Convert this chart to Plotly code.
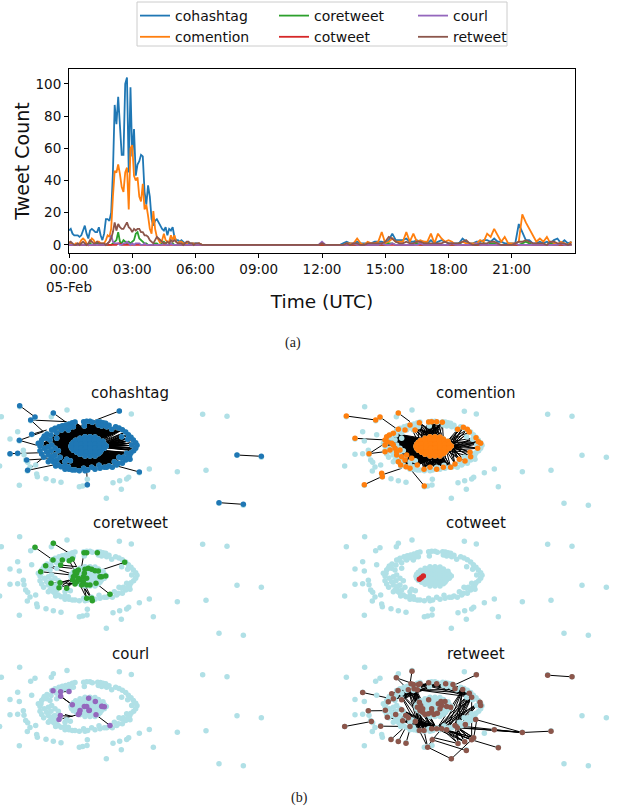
import plotly.graph_objects as go
import pandas as pd

W, H = 618, 812

# ---------- time series (5-minute bins to 06:00, then 10-minute bins) ----------
MINUTES = list(range(0, 360, 5)) + list(range(360, 1440, 10))

COHASHTAG = [9,10,7,6,6,6,5,6,9,12,7,4,9,10,9,8,8,11,6,3,7,16,16,15,20,45,87,75,92,72,56,56,100,104,45,98,55,72,43,50,52,56,55,33,25,37,30,16,12,15,16,14,12,10,9,11,6,10,9,11,5,3,3,2,3,2,1,1,1,1,1,1,
             1,1,0,0,0,0,0,0,0,0,0,0,0,0,0,0,0,0,0,0,0,0,0,0,0,0,0,0,0,0,0,0,0,0,0,0,0,0,0,0,0,0,
             1,2,1,1,2,1,1,1,1,2,2,2,1,3,7,3,3,3,4,2,2,3,2,2,1,3,1,2,3,2,1,1,1,1,4,2,1,1,2,2,3,3,2,4,2,2,1,1,1,1,13,8,3,3,1,1,2,1,2,1,3,4,1,3,1,2]
COMENTION = [2,1,0,0,1,0,1,3,4,3,1,0,2,4,3,1,2,2,1,1,1,3,6,5,10,30,46,45,50,44,36,33,45,48,22,60,62,43,40,42,30,27,38,22,25,18,10,7,21,10,5,3,1,3,7,3,2,2,6,3,6,2,1,2,2,1,1,1,0,0,1,1,
             0,1,0,0,0,0,0,0,0,0,0,0,0,0,0,0,0,0,0,0,0,0,0,0,0,0,0,0,0,0,0,0,0,0,0,0,0,0,0,0,0,0,
             0,1,1,1,4,1,0,2,1,1,2,8,1,2,4,2,2,2,8,2,7,2,3,2,2,7,1,7,4,2,3,2,0,1,2,1,1,1,1,3,2,7,5,10,6,2,5,1,1,1,2,19,14,10,6,2,4,2,5,1,1,0,2,1,0,2]
CORETWEET = [0,0,0,0,0,0,0,0,0,0,0,0,1,0,0,0,1,0,0,0,0,0,0,0,0,1,2,3,8,2,1,3,2,1,2,1,2,3,7,8,4,3,2,1,1,0,0,0,0,1,1,0,0,1,2,1,0,0,1,1,0,0,0,0,0,0,0,0,0,0,0,0,
             0,0,0,0,0,0,0,0,0,0,0,0,0,0,0,0,0,0,0,0,0,0,0,0,0,0,0,0,0,0,0,0,0,0,0,0,0,0,0,0,0,0,
             0,0,0,0,0,0,0,0,0,0,0,0,0,1,1,0,0,0,0,0,0,1,0,0,0,0,0,0,0,0,0,0,0,1,0,0,0,0,0,0,1,0,1,1,0,0,0,0,0,0,0,1,2,1,0,0,0,0,0,1,0,0,0,0,0,0]
COTWEET = [0,0,0,0,0,0,0,0,0,0,0,0,0,0,0,0,0,0,0,0,0,0,0,0,0,0,0,0,1,1,0,0,0,0,0,0,0,0,0,0,0,0,0,0,0,0,0,0,0,0,0,0,0,0,0,0,0,0,0,0,0,0,0,0,0,0,0,0,0,0,0,0,
           0,0,0,0,0,0,0,0,0,0,0,0,0,0,0,0,0,0,0,0,0,0,0,0,0,0,0,0,0,0,0,0,0,0,0,0,0,0,0,0,0,0,
           0,0,0,0,0,0,0,0,0,0,0,0,0,0,0,0,0,0,0,0,0,0,0,0,0,0,0,0,0,0,0,0,0,0,0,0,0,0,0,0,0,0,0,0,0,0,0,0,0,0,0,0,0,0,0,0,0,0,0,0,0,0,0,0,0,0]
COURL = [0,0,0,0,0,0,0,0,0,0,0,0,0,0,0,0,0,0,0,0,0,0,1,2,6,2,1,1,1,0,0,1,1,2,1,0,1,0,1,1,1,0,0,1,0,0,0,0,0,0,0,0,0,0,1,0,0,0,1,0,0,0,0,0,0,0,0,0,0,0,0,0,
         0,0,0,0,0,0,0,0,0,0,0,0,0,0,0,0,0,0,0,0,0,0,0,0,0,0,0,0,0,0,0,0,0,0,0,0,2,0,0,0,0,0,
         0,0,0,1,0,0,0,0,0,0,0,1,0,0,1,0,0,0,0,0,0,0,1,0,0,0,0,0,0,0,0,1,0,0,0,0,0,0,1,0,0,0,0,0,0,0,0,0,0,1,0,0,0,0,0,0,0,0,0,0,0,0,1,0,0,0]
RETWEET = [1,2,1,0,0,1,0,1,2,1,0,1,3,2,1,1,2,1,1,1,1,0,1,2,4,8,14,9,13,11,10,10,12,14,11,10,8,10,9,10,10,8,8,6,6,5,3,2,1,3,5,4,3,2,1,1,2,1,3,2,3,2,1,1,1,0,1,2,2,1,1,0,
           1,1,0,0,0,0,0,0,0,0,0,0,0,0,0,0,0,0,0,0,0,0,0,0,0,0,0,0,0,0,0,0,0,0,0,0,1,0,0,0,0,0,
           0,1,0,1,1,0,0,1,1,1,1,1,2,5,4,2,1,1,2,1,1,2,2,1,1,1,1,1,1,2,1,1,1,1,2,3,1,0,0,1,1,1,2,2,1,0,0,0,0,1,2,2,3,2,1,1,1,1,0,2,2,1,1,1,0,1]

SERIES_NAMES = ["cohashtag", "comention", "coretweet", "cotweet", "courl", "retweet"]
SERIES_VALUES = [COHASHTAG, COMENTION, CORETWEET, COTWEET, COURL, RETWEET]
SERIES_COLORS = ["#1f77b4", "#ff7f0e", "#2ca02c", "#d62728", "#9467bd", "#8c564b"]
SERIES_LEGEND = ["g1", "g1", "g2", "g2", "g3", "g3"]

X_TICKS = [0, 180, 360, 540, 720, 900, 1080, 1260]
X_LABELS = ["00:00<br>05-Feb", "03:00", "06:00", "09:00", "12:00", "15:00", "18:00", "21:00"]
Y_TICKS = [0, 20, 40, 60, 80, 100]

# ---------- shared network layout ----------
RING_TOP = [(200,150),(210,145),(222,140),(232,137),(242,135),(252,132),(262,128),(270,126),(296,125),(305,124),(315,124),(322,127),(338,125),(346,126),(354,128),(362,130),(372,136),(230,150),(250,150),(265,140),(298,138),(350,138),(228,148),(240,143),(255,142),(340,135),(365,140)]
RING_RIGHT = [(380,148),(392,140),(402,144),(412,149),(422,156),(430,164),(438,172),(445,180),(452,188),(456,196),(452,205),(446,212),(438,218),(434,226),(425,220),(435,238),(422,240),(410,235),(402,232),(410,170),(428,178),(440,195),(430,232),(415,232)]
RING_BOTTOM = [(412,250),(400,250),(388,245),(382,262),(372,258),(358,262),(342,256),(330,268),(320,262),(308,270),(296,265),(283,272),(270,270),(252,268),(240,268),(228,260),(212,258),(256,242),(300,272),(345,265),(365,262),(395,255),(262,270),(240,258),(250,260)]
RING_LEFT = [(205,245),(200,235),(245,238),(190,245),(176,232),(170,222),(165,212),(165,198),(160,190),(170,180),(178,168),(186,162),(198,165),(215,175),(215,158),(205,150),(190,200),(200,195),(210,205),(220,212),(198,212),(185,215),(178,205),(210,225),(225,232),(240,245),(215,240),(205,228),(175,175),(168,190),(185,175),(195,180),(190,225),(195,240),(210,250),(220,255)]
CENTER = [(285,175),(299,173),(313,173),(327,174),(340,177),
          (265,187),(279,187),(293,187),(307,187),(321,187),(335,187),(349,187),
          (258,199),(272,199),(286,199),(300,199),(314,199),(328,199),(342,199),(356,199),(364,198),
          (265,211),(279,211),(293,211),(307,211),(321,211),(335,211),(349,211),
          (285,223),(299,223),(313,223),(327,223),(340,221)]
CENTER_FILL = [(300,170),(315,170),(330,171),(272,181),(286,181),(300,181),(314,181),(328,181),(342,181),(354,184),
               (260,193),(274,193),(288,193),(302,193),(316,193),(330,193),(344,193),(358,193),
               (260,205),(274,205),(288,205),(302,205),(316,205),(330,205),(344,205),(358,205),
               (275,217),(289,217),(303,217),(317,217),(331,217),(345,217),(300,228),(315,228),(330,228)]
OUTLIERS = [(49,110),(104,80),(150,113),(137,122),(205,100),(199,110),(246,90),(403,94),(439,102),(653,103),(726,109),(98,155),(140,164),(75,177),(103,183),(75,223),(98,221),(115,211),(117,224),(122,240),(128,247),(135,261),(152,255),(127,273),(44,258),(155,282),(157,290),(183,296),(205,302),(228,307),(103,316),(283,320),(293,318),(306,315),(307,298),(384,308),(404,302),(425,297),(431,292),(409,328),(463,278),(493,267),(505,320),(577,275),(663,271),(756,226),(829,232),(364,355),(702,370),(775,376)]
ALL_NODES = RING_TOP + RING_RIGHT + RING_BOTTOM + RING_LEFT + CENTER + CENTER_FILL + OUTLIERS

# ---------- per-panel active nodes and edges ----------
COH_EXTRA = [(104,77),(150,111),(137,120),(205,99),(403,93),(103,181),(75,221),(98,220),(128,271),(463,276),(307,314),(756,225),(829,229),(702,368),(775,373),(140,163),(125,240)]
COH_NODES = RING_TOP + RING_RIGHT + RING_BOTTOM + RING_LEFT + CENTER + CENTER_FILL + COH_EXTRA
COH_EDGES = [((104,77),(150,111)),((137,120),(245,125)),((205,99),(245,128)),((403,93),(320,125)),((103,181),(175,155)),((103,181),(170,200)),((75,221),(175,218)),((128,271),(205,255)),((125,240),(205,235)),((463,276),(385,255)),((307,314),(305,270)),((756,225),(829,229)),((702,368),(775,373)),((140,163),(185,150)),((137,120),(175,155)),((128,271),(176,232))]
COH_GROUPS = [(RING_TOP, CENTER[:12]), (RING_LEFT, CENTER[:21]), (RING_BOTTOM, CENTER[21:]), (RING_RIGHT[4:12], CENTER[16:21]), (RING_RIGHT[:4], CENTER[4:12]), (RING_RIGHT[12:19], CENTER[26:33])]

COM_EXTRA = [(49,108),(137,120),(150,111),(205,99),(75,175),(117,221),(155,280),(157,290),(103,314),(283,318)]
COM_RIGHT = [(383,148),(400,142),(412,148),(418,156),(438,173),(445,185),(452,190),(443,205),(420,217),(422,230),(405,243),(388,238),(375,252)]
COM_TOP = [(296,126),(305,125),(320,125),(337,127),(268,128),(240,135),(255,150),(225,150),(205,148)]
COM_BOTTOM = [(362,262),(340,262),(320,268),(300,262),(282,268),(262,255),(240,265),(228,260),(212,255),(205,245),(225,240),(245,235)]
COM_LEFT = [(165,180),(170,170),(178,165),(190,160),(165,215),(180,210),(195,205),(210,210),(200,225),(215,230),(230,225),(190,195),(165,195),(172,185),(185,190),(200,215)]
COM_NODES = COM_RIGHT + COM_TOP + COM_BOTTOM + COM_LEFT + CENTER + CENTER_FILL + COM_EXTRA
COM_EDGES = [((49,108),(137,120)),((150,111),(205,150)),((137,120),(150,111)),((205,99),(240,125)),((75,175),(170,180)),((117,221),(165,190)),((117,221),(165,215)),((155,285),(215,265)),((103,314),(155,290)),((283,318),(245,272))]
COM_GROUPS = [(COM_TOP[:6], CENTER[:8]), (COM_LEFT, CENTER[5:21:2]), (COM_BOTTOM, CENTER[21:]), (COM_RIGHT, CENTER[11:12] + CENTER[20:21] + CENTER[27:28])]

CORT_NODES = [(150,112),(205,100),(204,150),(227,165),(232,150),(253,152),(262,147),(297,128),(305,128),(337,128),(419,157),(182,167),(167,185),(198,220),(225,218),(222,233),(245,235),(305,265),(320,265),(322,272),(375,253),(333,220),(270,185),(275,190),
              (265,200),(270,195),(275,185),(280,205),(295,200),(300,178),(310,175),(320,178),(330,182),(340,183),(345,200),(350,200),(362,198),(275,215),(285,210),(295,215),(290,225),(305,225),(315,225),(298,190),(263,210),(270,222),(280,180),(305,205)]
CORT_EDGES = [((150,112),(204,150)),((205,100),(250,128)),((297,128),(290,170)),((419,157),(355,178)),((167,185),(260,195)),((182,167),(255,190)),((262,147),(275,170)),((227,165),(275,170)),((232,150),(262,147)),((375,253),(333,220)),((320,265),(290,225)),((322,272),(295,228)),((305,265),(285,225)),((225,218),(275,222)),((222,233),(280,215)),((245,235),(270,212)),((198,220),(270,210)),((253,152),(270,185)),((305,265),(295,222)),((320,265),(300,225)),((225,218),(270,205)),((222,233),(270,200)),((245,235),(262,205)),((182,167),(262,175))]

COT_NODES = [(268,208),(274,203),(280,198)]
COT_EDGES = [((268,208),(280,198))]

COU_NODES = [(204,151),(227,154),(252,153),(227,167),(262,193),(311,173),(331,183),(298,198),(312,210),(305,198),(352,198),(358,199),(350,197),(285,210),(280,222),(283,218),(313,209),(333,223),(226,225),(222,237),(375,255)]
COU_EDGES = [((204,151),(262,193)),((227,167),(262,193)),((333,223),(375,255)),((226,225),(262,228)),((262,228),(240,222)),((222,237),(280,222)),((227,154),(252,153))]

RT_OUT = [(44,258),(124,243),(98,156),(115,211),(166,209),(152,257),(172,230),(183,297),(205,303),(228,308),(199,112),(246,92),(439,103),(653,104),(726,109),(577,276),(663,272),(505,322),(364,355),(409,330),(384,309),(425,298),(431,292),(404,304),(307,298),(293,320),(493,268)]
RT_TOP = [(204,150),(235,148),(243,130),(250,132),(252,145),(265,132),(270,130),(262,148),(296,127),(320,130),(347,130),(369,132),(375,145)]
RT_RIGHT = [(398,147),(418,158),(425,170),(450,185),(452,195),(437,237),(406,252)]
RT_BOTTOM = [(382,262),(375,255),(350,268),(335,265),(320,265),(305,265),(282,270),(268,270),(256,243),(240,258)]
RT_LEFT = [(215,178),(175,184),(185,160),(190,175),(218,241),(235,232),(227,225),(197,222),(215,208)]
RT_CENTER = [(268,185),(272,195),(262,200),(270,210),(278,215),(285,222),(295,220),(305,205),(312,222),(322,218),(330,205),(335,195),(345,183),(350,198),(362,200),(296,178),(305,215),(325,190),(333,183),(278,205)]
RT_NODES = RT_OUT + RT_TOP + RT_RIGHT + RT_BOTTOM + RT_LEFT + RT_CENTER
RT_EDGES = [((44,258),(124,243)),((98,156),(185,175)),((115,211),(200,210)),((152,257),(240,258)),((172,230),(218,241)),((183,297),(218,265)),((205,303),(225,265)),((228,308),(240,265)),((246,92),(240,130)),((199,112),(250,130)),((199,112),(235,148)),((439,103),(370,135)),((653,104),(726,109)),((577,276),(663,272)),((577,276),(437,237)),((577,276),(375,255)),((577,276),(400,262)),((577,276),(382,262)),((577,276),(493,268)),((505,322),(425,298)),((364,355),(293,320)),((364,355),(431,292)),((409,330),(307,298)),((384,309),(305,290)),((293,320),(307,298)),((293,320),(282,270)),((425,298),(425,170)),((431,292),(440,240)),((404,304),(320,265)),((425,298),(350,268)),((307,298),(335,265)),((293,320),(268,270))]
RT_GROUPS = [(RT_TOP[6:], RT_RIGHT[:3]), (RT_TOP[:5], RT_BOTTOM[4:8]), (RT_BOTTOM[:5], RT_RIGHT[:4]), (RT_LEFT[:4], RT_TOP[6:10]), (RT_LEFT[4:], RT_BOTTOM[3:7]), (RT_BOTTOM[:4], RT_OUT[20:24])]

PANELS = [
    ("cohashtag", SERIES_COLORS[0], COH_NODES, COH_EDGES, COH_GROUPS),
    ("comention", SERIES_COLORS[1], COM_NODES, COM_EDGES, COM_GROUPS),
    ("coretweet", SERIES_COLORS[2], CORT_NODES, CORT_EDGES, []),
    ("cotweet", SERIES_COLORS[3], COT_NODES, COT_EDGES, []),
    ("courl", SERIES_COLORS[4], COU_NODES, COU_EDGES, []),
    ("retweet", SERIES_COLORS[5], RT_NODES, RT_EDGES, RT_GROUPS),
]
PANEL_NODE = "#b0e0e6"


def edge_xy(edges, groups):
    xs, ys = [], []
    for a, b in edges:
        xs += [a[0], b[0], None]
        ys += [a[1], b[1], None]
    for left, right in groups:
        for a in left:
            for b in right:
                xs += [a[0], b[0], None]
                ys += [a[1], b[1], None]
    return xs, ys


fig = go.Figure()
times = [pd.Timestamp("2020-02-05") + pd.Timedelta(minutes=m) for m in MINUTES]
tick_times = [pd.Timestamp("2020-02-05") + pd.Timedelta(minutes=m) for m in X_TICKS]

for name, vals, color, grp in zip(SERIES_NAMES, SERIES_VALUES, SERIES_COLORS, SERIES_LEGEND):
    fig.add_trace(go.Scatter(x=times, y=vals, mode="lines", name=name, legendgroup=grp,
                             line=dict(color=color, width=1.8), xaxis="x", yaxis="y"))

layout = dict(
    width=W, height=H, margin=dict(l=0, r=0, t=0, b=0),
    paper_bgcolor="white", plot_bgcolor="white", autosize=False,
    font=dict(family="DejaVu Sans", color="#111111", size=13),
    legend=dict(orientation="h", x=135 / W, y=1, xanchor="left", yanchor="top",
                traceorder="grouped", tracegroupgap=41, borderwidth=0, entrywidth=94, entrywidthmode="pixels",
                font=dict(size=14, family="DejaVu Sans", color="#111111"), bgcolor="rgba(0,0,0,0)"),
    shapes=[dict(type="rect", xref="paper", yref="paper", x0=137 / W, x1=507 / W, y0=1 - 46 / H, y1=1 - 2 / H,
                 line=dict(color="#cccccc", width=1), fillcolor="rgba(0,0,0,0)")],
    xaxis=dict(domain=[69 / W, 575 / W], type="date", automargin=False,
               range=[pd.Timestamp("2020-02-05"), pd.Timestamp("2020-02-06")],
               tickvals=tick_times, ticktext=X_LABELS, ticks="outside", ticklen=4, tickcolor="black",
               showgrid=False, zeroline=False, showline=True, linecolor="black", linewidth=1, mirror=True,
               tickangle=0, tickfont=dict(size=13.5), anchor="y",
               title=dict(text="Time (UTC)", font=dict(size=18.5), standoff=1)),
    yaxis=dict(domain=[1 - 253 / H, 1 - 69 / H], range=[-5, 109.3], tickvals=Y_TICKS, automargin=False,
               ticks="outside", ticklen=4, tickcolor="black", showgrid=False, zeroline=False,
               showline=True, linecolor="black", linewidth=1, mirror=True, tickfont=dict(size=13.5),
               anchor="x", title=dict(text="Tweet Count", font=dict(size=19), standoff=0)),
)

annotations = [
    dict(text="(a)", x=293 / W, y=1 - 343 / H, xref="paper", yref="paper", showarrow=False,
         xanchor="center", yanchor="middle",
         font=dict(family="Liberation Serif", size=14, color="#222222")),
    dict(text="(b)", x=299 / W, y=1 - 798 / H, xref="paper", yref="paper", showarrow=False,
         xanchor="center", yanchor="middle",
         font=dict(family="Liberation Serif", size=14, color="#222222")),
]

node_x = [p[0] for p in ALL_NODES]
node_y = [p[1] for p in ALL_NODES]
tops = [380, 510, 640.5]
for i, (title, color, active, edges, groups) in enumerate(PANELS):
    n = i + 2
    col = i % 2
    top = tops[i // 2]
    if col == 0:
        dom = [0, 290 / W]
        xr = [45, 915]
    else:
        dom = [330 / W, 1]
        xr = [0, 864]
    layout[f"xaxis{n}"] = dict(domain=dom, range=xr, visible=False, anchor=f"y{n}")
    layout[f"yaxis{n}"] = dict(domain=[1 - (top + 130) / H, 1 - top / H], range=[390, 0],
                               visible=False, anchor=f"x{n}")
    ex, ey = edge_xy(edges, groups)
    fig.add_trace(go.Scatter(x=ex, y=ey, mode="lines", line=dict(color="black", width=1),
                             showlegend=False, xaxis=f"x{n}", yaxis=f"y{n}", hoverinfo="skip"))
    fig.add_trace(go.Scatter(x=node_x, y=node_y, mode="markers",
                             marker=dict(color=PANEL_NODE, size=5.5, line=dict(width=0)),
                             showlegend=False, xaxis=f"x{n}", yaxis=f"y{n}", hoverinfo="skip"))
    fig.add_trace(go.Scatter(x=[p[0] for p in active], y=[p[1] for p in active], mode="markers",
                             marker=dict(color=color, size=5.5, line=dict(width=0)),
                             showlegend=False, xaxis=f"x{n}", yaxis=f"y{n}", hoverinfo="skip"))
    annotations.append(dict(text=title, x=476 / W if col else 130 / W, y=1 - (top + 13) / H,
                            xref="paper", yref="paper", showarrow=False, xanchor="center", yanchor="middle",
                            font=dict(family="DejaVu Sans", size=15, color="#111111")))

layout["annotations"] = annotations
fig.update_layout(**layout)
fig.write_html("out.html", post_script="document.body.style.margin='0';",
               config={"displayModeBar": False})
